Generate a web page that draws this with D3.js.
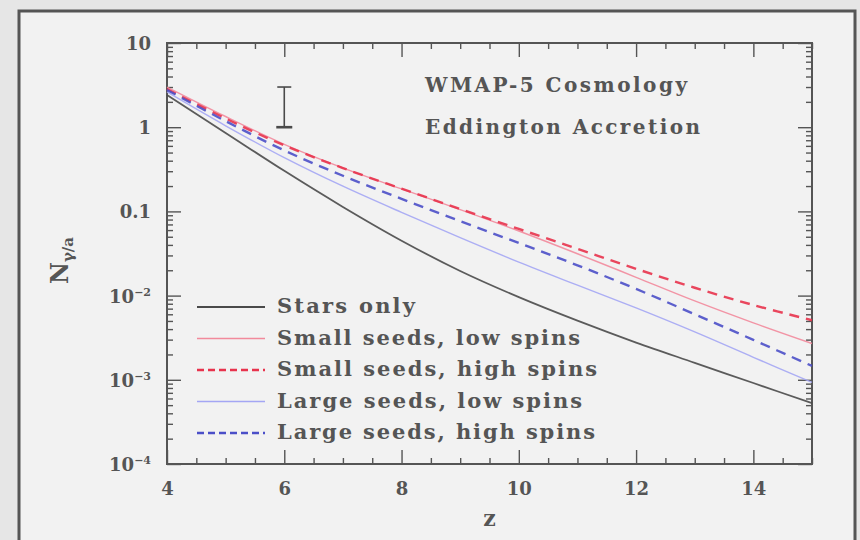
<!DOCTYPE html>
<html lang="en">
<head>
    <meta charset="UTF-8">
    <title>N gamma/a vs z</title>
    <script src="https://d3js.org/d3.v7.min.js"></script>
    <style>
        body { margin: 0; background: #e6e6e6; }
        text { font-family: "DejaVu Serif", serif; fill: #555; font-weight: bold; }
        .axis path { display: none; }
        .axis line { stroke: #555; stroke-width: 1.4px; }
        .series { fill: none; }
    </style>
</head>
<body>
    <svg id="chart" width="860" height="540"></svg>

    <script>
        // redshift grid
        const zValues = [4, 5, 6, 7, 8, 9, 10, 11, 12, 13, 14, 15];

        const starsOnly = [2.41, 0.855, 0.303, 0.113, 0.0449, 0.0196, 0.00959, 0.00504, 0.00277, 0.00159, 0.000916, 0.000527];
        const smallLow  = [3.00, 1.34, 0.627, 0.329, 0.185, 0.105, 0.0585, 0.0314, 0.0165, 0.00865, 0.00475, 0.0027];
        const smallHigh = [2.84, 1.27, 0.608, 0.327, 0.186, 0.107, 0.0619, 0.0359, 0.0208, 0.0124, 0.00773, 0.0051];
        const largeLow  = [2.62, 1.04, 0.435, 0.199, 0.0973, 0.0488, 0.0250, 0.0133, 0.00713, 0.00370, 0.00185, 0.00093];
        const largeHigh = [2.77, 1.18, 0.530, 0.265, 0.141, 0.0766, 0.0421, 0.0229, 0.0120, 0.00601, 0.00298, 0.00146];

        const seriesNames = ["Stars only", "Small seeds, low spins", "Small seeds, high spins",
                             "Large seeds, low spins", "Large seeds, high spins"];

        // error bar at z = 6
        const errZ = 6;
        const errRange = [1, 3];

        const xTickValues = [4, 6, 8, 10, 12, 14];
        const xTickLabels = ["4", "6", "8", "10", "12", "14"];
        const yTickValues = [10, 1, 0.1, 0.01, 0.001, 0.0001];
        const yTickBase = ["10", "1", "0.1", "10", "10", "10"];
        const yTickExp = ["", "", "", "\u22122", "\u22123", "\u22124"];

        const notes = ["WMAP-5 Cosmology", "Eddington Accretion"];

        const svg = d3.select("#chart");

        // frame around the whole figure
        svg.append("rect")
            .attr("x", 0).attr("y", 0).attr("width", 860).attr("height", 540)
            .attr("fill", "#e6e6e6");
        svg.append("rect")
            .attr("x", 19).attr("y", 11).attr("width", 836).attr("height", 540)
            .attr("fill", "#f2f2f2")
            .attr("stroke", "#555").attr("stroke-width", 3);

        const plotLeft = 167, plotRight = 812, plotTop = 43, plotBottom = 464;

        const x = d3.scaleLinear().domain([4, 15]).range([plotLeft, plotRight]);
        const y = d3.scaleLog().domain([1e-4, 10]).range([plotBottom, plotTop]);

        // minor tick values
        const xMinor = d3.range(4, 15.01, 0.5).filter(v => v % 2 !== 0);
        const yMinor = [];
        for (let e = -4; e < 1; e++) {
            for (let m = 2; m <= 9; m++) yMinor.push(m * Math.pow(10, e));
        }

        // bottom axis, ticks pointing inward
        svg.append("g").attr("class", "axis")
            .attr("transform", `translate(0,${plotBottom})`)
            .call(d3.axisBottom(x).tickValues(xTickValues).tickSizeInner(-14).tickSizeOuter(0)
                .tickPadding(18).tickFormat((d, i) => xTickLabels[i]))
            .selectAll("text").attr("font-size", 18).attr("font-family", "DejaVu Serif").attr("fill", "#555");
        svg.append("g").attr("class", "axis")
            .attr("transform", `translate(0,${plotBottom})`)
            .call(d3.axisBottom(x).tickValues(xMinor).tickSize(-6).tickFormat(""));

        // top axis
        svg.append("g").attr("class", "axis")
            .attr("transform", `translate(0,${plotTop})`)
            .call(d3.axisTop(x).tickValues(xTickValues).tickSize(-14).tickFormat(""));
        svg.append("g").attr("class", "axis")
            .attr("transform", `translate(0,${plotTop})`)
            .call(d3.axisTop(x).tickValues(xMinor).tickSize(-6).tickFormat(""));

        // left and right axes
        svg.append("g").attr("class", "axis")
            .attr("transform", `translate(${plotLeft},0)`)
            .call(d3.axisLeft(y).tickValues(yTickValues).tickSize(-14).tickFormat(""));
        svg.append("g").attr("class", "axis")
            .attr("transform", `translate(${plotLeft},0)`)
            .call(d3.axisLeft(y).tickValues(yMinor).tickSize(-6).tickFormat(""));
        svg.append("g").attr("class", "axis")
            .attr("transform", `translate(${plotRight},0)`)
            .call(d3.axisRight(y).tickValues(yTickValues).tickSize(-14).tickFormat(""));
        svg.append("g").attr("class", "axis")
            .attr("transform", `translate(${plotRight},0)`)
            .call(d3.axisRight(y).tickValues(yMinor).tickSize(-6).tickFormat(""));

        // y tick labels with superscripts
        yTickValues.forEach((v, i) => {
            const t = svg.append("text")
                .attr("x", 151)
                .attr("y", y(v) + 7)
                .attr("text-anchor", "end")
                .attr("font-size", 18);
            t.append("tspan").text(yTickBase[i]);
            if (yTickExp[i]) {
                t.append("tspan").attr("font-size", 11).attr("dy", -7).text(yTickExp[i]);
            }
        });

        // plot box
        svg.append("rect")
            .attr("x", plotLeft).attr("y", plotTop)
            .attr("width", plotRight - plotLeft).attr("height", plotBottom - plotTop)
            .attr("fill", "none").attr("stroke", "#555").attr("stroke-width", 2);

        // series
        const styles = [
            { color: "#4a4a4a", width: 1.8, dash: null },
            { color: "#f28a9c", width: 1.4, dash: null },
            { color: "#e8334d", width: 2.4, dash: "10,7" },
            { color: "#a4a6f4", width: 1.4, dash: null },
            { color: "#4b4fc8", width: 2.4, dash: "10,7" }
        ];
        const allSeries = [starsOnly, smallLow, smallHigh, largeLow, largeHigh];

        const line = d3.line()
            .x(d => x(d.z))
            .y(d => y(d.v))
            .curve(d3.curveCatmullRom.alpha(0.5));

        allSeries.forEach((vals, i) => {
            const pts = zValues.map((z, k) => ({ z: z, v: vals[k] }));
            svg.append("path")
                .datum(pts)
                .attr("class", "series")
                .attr("d", line)
                .attr("stroke", styles[i].color)
                .attr("stroke-width", styles[i].width)
                .attr("stroke-dasharray", styles[i].dash)
                .attr("opacity", 0.9);
        });

        // error bar
        const eb = svg.append("g").attr("stroke", "#4a4a4a");
        eb.append("line")
            .attr("x1", x(errZ)).attr("x2", x(errZ))
            .attr("y1", y(errRange[0])).attr("y2", y(errRange[1]))
            .attr("stroke-width", 1.6);
        eb.append("line")
            .attr("x1", x(errZ) - 7).attr("x2", x(errZ) + 7)
            .attr("y1", y(errRange[1])).attr("y2", y(errRange[1]))
            .attr("stroke-width", 1.6);
        eb.append("line")
            .attr("x1", x(errZ) - 8).attr("x2", x(errZ) + 8)
            .attr("y1", y(errRange[0])).attr("y2", y(errRange[0]))
            .attr("stroke-width", 2.6);

        // notes
        svg.append("text").attr("x", 425).attr("y", 92)
            .attr("font-size", 20).attr("textLength", 262).attr("lengthAdjust", "spacing")
            .text(notes[0]);
        svg.append("text").attr("x", 425).attr("y", 134)
            .attr("font-size", 20).attr("textLength", 275).attr("lengthAdjust", "spacing")
            .text(notes[1]);

        // legend
        const legendWidths = [138, 303, 320, 305, 318];
        seriesNames.forEach((name, i) => {
            const base = 313 + i * 31.5;
            svg.append("line")
                .attr("x1", 197).attr("x2", 265)
                .attr("y1", base - 6).attr("y2", base - 6)
                .attr("stroke", styles[i].color)
                .attr("stroke-width", styles[i].width)
                .attr("stroke-dasharray", styles[i].dash ? "7,4" : null);
            svg.append("text")
                .attr("x", 277).attr("y", base)
                .attr("font-size", 21)
                .attr("textLength", legendWidths[i]).attr("lengthAdjust", "spacing")
                .text(name);
        });

        // axis titles
        svg.append("text")
            .attr("x", x(9.5)).attr("y", 526)
            .attr("text-anchor", "middle")
            .attr("font-size", 22)
            .text("z");

        const yl = svg.append("text")
            .attr("transform", "translate(68,284) rotate(-90)")
            .attr("font-size", 24);
        yl.append("tspan").text("N");
        yl.append("tspan").attr("font-size", 15).attr("dy", 5).text("\u03b3/a");
    </script>
</body>
</html>
